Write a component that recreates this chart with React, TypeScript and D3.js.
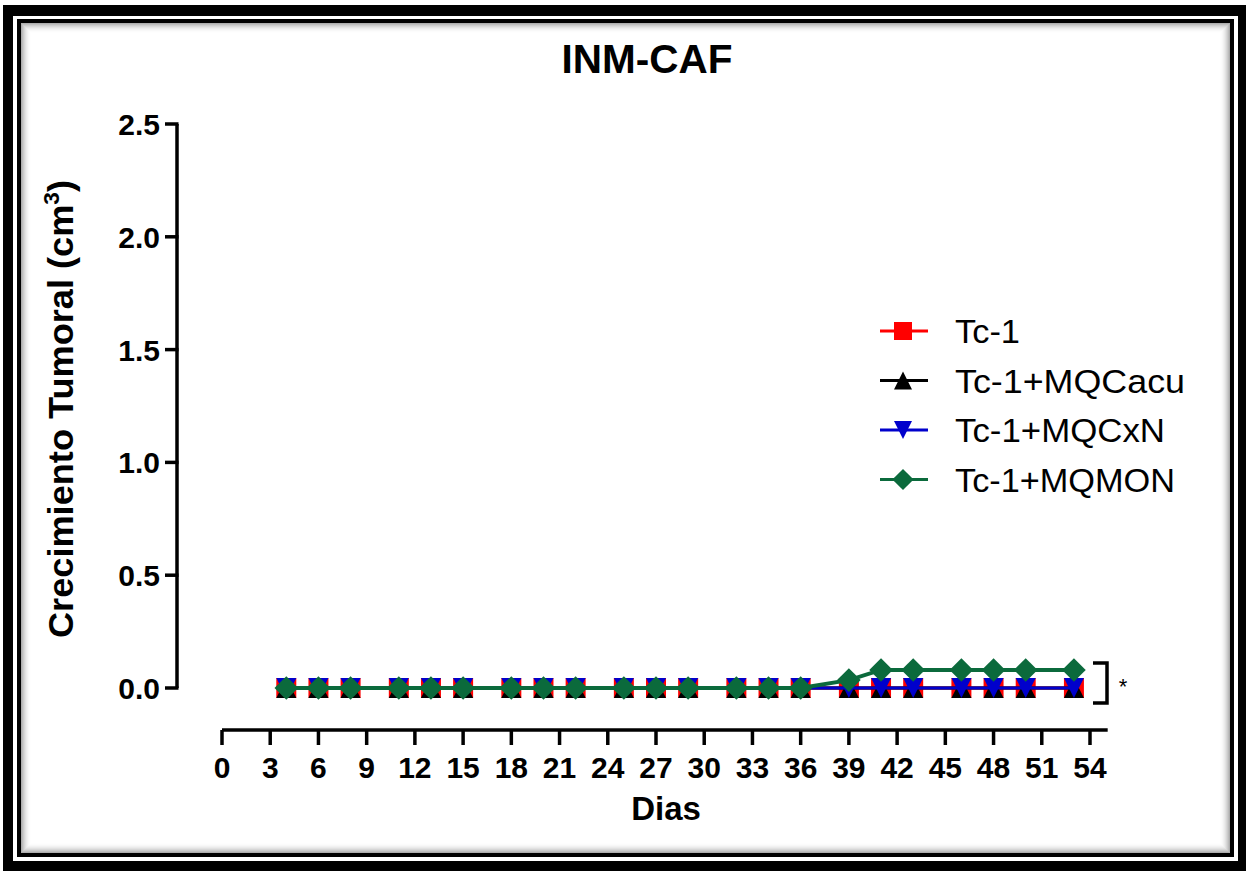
import React from 'react'
import * as d3 from 'd3'

const W = 1246
const H = 871

const title = 'INM-CAF'
const xLabel = 'Dias'

const days = [4, 6, 8, 11, 13, 15, 18, 20, 22, 25, 27, 29, 32, 34, 36, 39, 41, 43, 46, 48, 50, 53]
const tc1 = [0, 0, 0, 0, 0, 0, 0, 0, 0, 0, 0, 0, 0, 0, 0, 0, 0, 0, 0, 0, 0, 0]
const tc1Cacu = [0, 0, 0, 0, 0, 0, 0, 0, 0, 0, 0, 0, 0, 0, 0, 0, 0, 0, 0, 0, 0, 0]
const tc1CxN = [0, 0, 0, 0, 0, 0, 0, 0, 0, 0, 0, 0, 0, 0, 0, 0, 0, 0, 0, 0, 0, 0]
const tc1Mon = [0, 0, 0, 0, 0, 0, 0, 0, 0, 0, 0, 0, 0, 0, 0, 0.035, 0.08, 0.08, 0.08, 0.08, 0.08, 0.08]

const xTicks = [0, 3, 6, 9, 12, 15, 18, 21, 24, 27, 30, 33, 36, 39, 42, 45, 48, 51, 54]
const yTicks = [0, 0.5, 1.0, 1.5, 2.0, 2.5]

const seriesNames = ['Tc-1', 'Tc-1+MQCacu', 'Tc-1+MQCxN', 'Tc-1+MQMON']
const seriesValues = [tc1, tc1Cacu, tc1CxN, tc1Mon]
const seriesColors = ['#ff0000', '#000000', '#0000cc', '#0b6a3c']
const seriesShapes = ['square', 'up', 'down', 'diamond']
const legendWidths = [65, 230, 210, 220]

const font = '"Liberation Sans", Arial, sans-serif'

// marker paths, half-size r
const shape = (kind: string, r: number) => {
  if (kind === 'square') return `M${-r},${-r}H${r}V${r}H${-r}Z`
  if (kind === 'up') return `M0,${-r}L${r},${r}L${-r},${r}Z`
  if (kind === 'down') return `M${-r},${-r}L${r},${-r}L0,${r}Z`
  const d = r * 1.18
  return `M0,${-d}L${d},0L0,${d}L${-d},0Z`
}

export default function App() {
  const x = d3.scaleLinear().domain([0, 54]).range([222, 1090])
  const y = d3.scaleLinear().domain([0, 2.5]).range([688, 124])
  const xAxisY = 730
  const yAxisX = 177

  const line = d3.line<number>()
    .x((_, i) => x(days[i]))
    .y(v => y(v))

  // shadow rings inside the inner frame line
  const rings = d3.range(10)

  return (
    <svg width={W} height={H} style={{position: 'absolute', left: 0, top: 0}}>
      <rect x={0} y={0} width={W} height={H} fill="#fff" />
      {/* frame */}
      <rect x={3} y={5} width={W - 3} height={H - 5} fill="#000" />
      <rect x={13} y={16} width={1225} height={845} fill="#fff" />
      <rect x={19} y={21} width={1213} height={834} fill="none" stroke="#000" strokeWidth={4} />
      {rings.map(i => (
        <rect key={i} x={21.5 + i} y={23.5 + i} width={1209 - 2 * i - 1} height={830 - 2 * i - 1}
          fill="none" stroke="#000" strokeOpacity={0.32 * Math.pow(1 - i / 10, 2)} strokeWidth={1} />
      ))}

      {/* title */}
      <text x={647} y={73} textAnchor="middle" fontFamily={font} fontWeight="bold" fontSize={40}
        textLength={171} lengthAdjust="spacingAndGlyphs">{title}</text>

      {/* y axis */}
      <path d={`M${yAxisX},${y(2.5)}V${y(0)}`} stroke="#000" strokeWidth={3.5} fill="none" />
      {yTicks.map(t => (
        <g key={t}>
          <line x1={yAxisX - 12} x2={yAxisX + 1.5} y1={y(t)} y2={y(t)} stroke="#000" strokeWidth={3.5} />
          <text x={160} y={y(t) + 11} textAnchor="end" fontFamily={font} fontWeight="bold" fontSize={30}>
            {t.toFixed(1)}
          </text>
        </g>
      ))}
      <text transform={`translate(73,409) rotate(-90)`} textAnchor="middle" fontFamily={font}
        fontWeight="bold" fontSize={35} textLength={458} lengthAdjust="spacingAndGlyphs">
        Crecimiento Tumoral (cm<tspan dy={-14} fontSize={22}>3</tspan><tspan dy={14}>)</tspan>
      </text>

      {/* x axis */}
      <path d={`M${x(0)},${xAxisY}H${x(55.1)}`} stroke="#000" strokeWidth={3.5} fill="none" />
      {xTicks.map(t => (
        <g key={t}>
          <line x1={x(t)} x2={x(t)} y1={xAxisY} y2={xAxisY + 15} stroke="#000" strokeWidth={3.5} />
          <text x={x(t)} y={778} textAnchor="middle" fontFamily={font} fontWeight="bold" fontSize={30}>
            {t}
          </text>
        </g>
      ))}
      <text x={666} y={820} textAnchor="middle" fontFamily={font} fontWeight="bold" fontSize={33}>{xLabel}</text>

      {/* series */}
      {seriesValues.map((vals, s) => (
        <g key={s}>
          <path d={line(vals) || ''} fill="none" stroke={seriesColors[s]} strokeWidth={s === 3 ? 4 : 3} />
          {vals.map((v, i) => (
            <path key={i} d={shape(seriesShapes[s], 10)} transform={`translate(${x(days[i])},${y(v)})`}
              fill={seriesColors[s]} />
          ))}
        </g>
      ))}

      {/* significance bracket */}
      <path d={`M1093,${y(0.08) - 7}H1107V${y(0) + 15}H1093`} fill="none" stroke="#000" strokeWidth={3.5} />
      <text x={1123} y={694} textAnchor="middle" fontFamily={font} fontSize={22}>*</text>

      {/* legend */}
      {seriesNames.map((name, s) => {
        const ly = 331 + s * 49.5
        return (
          <g key={name}>
            <line x1={880} x2={928} y1={ly} y2={ly} stroke={seriesColors[s]} strokeWidth={3} />
            <path d={shape(seriesShapes[s], 9)} transform={`translate(903,${ly})`} fill={seriesColors[s]} />
            <text x={955} y={ly + 12} fontFamily={font} fontSize={33} textLength={legendWidths[s]}
              lengthAdjust="spacingAndGlyphs">{name}</text>
          </g>
        )
      })}
    </svg>
  )
}
